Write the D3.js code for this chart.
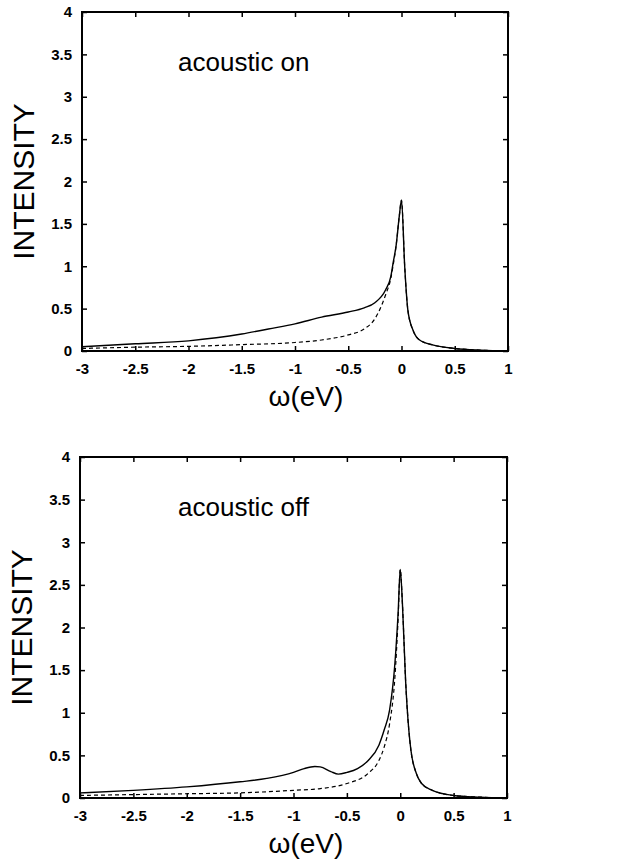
<!DOCTYPE html>
<html>
<head>
<meta charset="utf-8">
<script src="https://cdn.jsdelivr.net/npm/d3@7"></script>
<style>
  body { margin: 0; background: #fff; }
  svg { display: block; }
  text { font-family: "Liberation Sans", Arial, sans-serif; fill: #000; }
</style>
</head>
<body>
<div id="chart"></div>
<script>
// tick values
var xTicks = [-3, -2.5, -2, -1.5, -1, -0.5, 0, 0.5, 1];
var yTicks = [0, 0.5, 1, 1.5, 2, 2.5, 3, 3.5, 4];

// acoustic on: solid (full) and dashed curves
var onSolidX = [-3, -2.5, -2, -1.5, -1.25, -1, -0.75, -0.5, -0.35, -0.25, -0.15, -0.1, -0.08, -0.05, -0.02, 0, 0.03, 0.06, 0.11, 0.17, 0.3, 0.5, 0.75, 1];
var onSolidY = [0.05, 0.085, 0.12, 0.2, 0.26, 0.32, 0.4, 0.46, 0.51, 0.57, 0.72, 0.88, 1.03, 1.25, 1.6, 1.78, 1.0, 0.48, 0.24, 0.13, 0.07, 0.03, 0.01, 0.0];
var onDashX = [-3, -2.5, -2, -1.5, -1, -0.75, -0.5, -0.35, -0.25, -0.15, -0.1, -0.08, -0.05, -0.02, 0, 0.03, 0.06, 0.11, 0.17, 0.3, 0.5, 0.75, 1];
var onDashY = [0.03, 0.045, 0.055, 0.075, 0.1, 0.13, 0.19, 0.26, 0.38, 0.66, 0.86, 1.0, 1.25, 1.6, 1.78, 1.0, 0.48, 0.24, 0.13, 0.07, 0.03, 0.01, 0.0];

// acoustic off: solid (full) and dashed curves
var offSolidX = [-3, -2.5, -2, -1.5, -1.25, -1, -0.9, -0.8, -0.75, -0.65, -0.58, -0.5, -0.4, -0.3, -0.2, -0.15, -0.1, -0.05, -0.02, 0, 0.02, 0.05, 0.08, 0.1, 0.15, 0.2, 0.3, 0.5, 0.75, 1];
var offSolidY = [0.06, 0.09, 0.13, 0.19, 0.23, 0.3, 0.345, 0.37, 0.365, 0.31, 0.28, 0.3, 0.345, 0.44, 0.62, 0.8, 1.03, 1.58, 2.17, 2.68, 2.29, 1.38, 0.8, 0.56, 0.29, 0.17, 0.09, 0.03, 0.01, 0.0];
var offDashX = [-3, -2.5, -2, -1.5, -1, -0.75, -0.5, -0.3, -0.2, -0.15, -0.1, -0.05, -0.02, 0, 0.02, 0.05, 0.08, 0.1, 0.15, 0.2, 0.3, 0.5, 0.75, 1];
var offDashY = [0.03, 0.04, 0.05, 0.06, 0.09, 0.11, 0.17, 0.29, 0.44, 0.6, 0.87, 1.42, 2.1, 2.68, 2.29, 1.38, 0.8, 0.56, 0.29, 0.17, 0.09, 0.03, 0.01, 0.0];

var svg = d3.select("#chart").append("svg")
  .attr("width", 623)
  .attr("height", 863);

function zip(xs, ys) {
  return xs.map(function(x, i) { return { x: x, y: ys[i] }; });
}

// plain hyphen minus, like the original
function fmt(d) { return String(d); }

function panel(box, label, solid, dashed) {
  var x = d3.scaleLinear().domain([-3, 1]).range([box.left, box.right]);
  var y = d3.scaleLinear().domain([0, 4]).range([box.bottom, box.top]);
  var g = svg.append("g");

  var line = d3.line()
    .x(function(d) { return x(d.x); })
    .y(function(d) { return y(d.y); })
    .curve(d3.curveMonotoneX);

  g.append("path")
    .datum(dashed)
    .attr("fill", "none")
    .attr("stroke", "#000")
    .attr("stroke-width", 1.2)
    .attr("stroke-dasharray", "4,3")
    .attr("d", line);

  g.append("path")
    .datum(solid)
    .attr("fill", "none")
    .attr("stroke", "#000")
    .attr("stroke-width", 1.4)
    .attr("d", line);

  // axes with inward ticks
  g.append("g")
    .attr("transform", "translate(0," + box.bottom + ")")
    .call(d3.axisBottom(x).tickValues(xTicks).tickSize(-5).tickPadding(12).tickFormat(fmt));
  g.append("g")
    .attr("transform", "translate(" + box.left + ",0)")
    .call(d3.axisLeft(y).tickValues(yTicks).tickSize(-5).tickPadding(10).tickFormat(fmt));
  g.append("g")
    .attr("transform", "translate(0," + box.top + ")")
    .call(d3.axisTop(x).tickValues(xTicks).tickSize(-5).tickFormat(""));
  g.append("g")
    .attr("transform", "translate(" + box.right + ",0)")
    .call(d3.axisRight(y).tickValues(yTicks).tickSize(-5).tickFormat(""));

  g.selectAll(".domain").remove();
  g.selectAll(".tick line").attr("stroke-width", 1.5);
  g.selectAll(".tick text")
    .style("font-size", "15px")
    .style("font-weight", "bold")
    .style("font-family", "'Liberation Sans', Arial, sans-serif");

  g.append("rect")
    .attr("x", box.left)
    .attr("y", box.top)
    .attr("width", box.right - box.left)
    .attr("height", box.bottom - box.top)
    .attr("fill", "none")
    .attr("stroke", "#000")
    .attr("stroke-width", 2);

  g.append("text")
    .attr("x", 178)
    .attr("y", box.top + 59)
    .style("font-size", "26px")
    .text(label);

  g.append("text")
    .attr("x", 306)
    .attr("y", box.bottom + 55)
    .attr("text-anchor", "middle")
    .style("font-size", "28px")
    .text("\u03c9(eV)");

  g.append("text")
    .attr("transform", "translate(" + (box.left - 48) + "," + ((box.top + box.bottom) / 2) + ") rotate(-90)")
    .attr("text-anchor", "middle")
    .style("font-size", "30px")
    .text("INTENSITY");
}

panel({ left: 82, right: 508, top: 12, bottom: 351 }, "acoustic on",
  zip(onSolidX, onSolidY), zip(onDashX, onDashY));
panel({ left: 80, right: 507, top: 457, bottom: 798 }, "acoustic off",
  zip(offSolidX, offSolidY), zip(offDashX, offDashY));
</script>
</body>
</html>
